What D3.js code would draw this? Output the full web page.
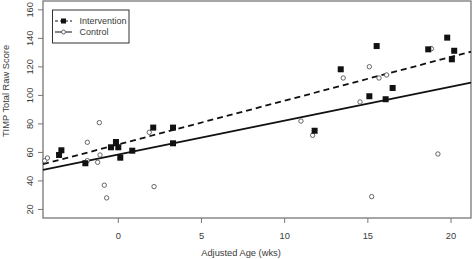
<!DOCTYPE html>
<html>
<head>
<meta charset="utf-8">
<script src="https://cdn.jsdelivr.net/npm/d3@7"></script>
<style>
  body { margin: 0; background: #fff; }
  text { font-family: "Liberation Sans", Arial, sans-serif; fill: #3a3a3a; }
</style>
</head>
<body>
<div id="chart"></div>
<script>
// adjusted age (wks) and TIMP score
const interventionAge   = [-3.56, -3.42, -1.98, -0.44, -0.14, 0.0, 0.12, 0.84, 2.1, 3.29, 3.29, 11.8, 13.37, 15.09, 15.53, 16.07, 16.49, 18.63, 19.77, 20.05, 20.19];
const interventionScore = [58.2, 61.5, 52.4, 63.6, 67.3, 63.6, 56.3, 61.2, 77.4, 77.4, 66.4, 75.2, 118.3, 99.4, 134.6, 97.3, 105.2, 132.3, 140.5, 125.3, 131.3];

const controlAge   = [-4.42, -4.26, -1.86, -1.86, -1.24, -1.14, -1.1, -0.84, -0.7, 1.86, 2.15, 10.98, 11.68, 13.52, 14.53, 15.09, 15.23, 15.67, 16.13, 18.82, 19.21];
const controlScore = [54.2, 56.1, 67.1, 54.2, 53.1, 80.9, 58.2, 37.0, 28.1, 74.1, 36.0, 82.0, 72.0, 112.2, 95.4, 120.1, 29.0, 112.2, 114.3, 132.8, 58.9];

// fitted lines [intercept, slope]
const interventionFit = [65.6, 3.07];
const controlFit = [58.5, 2.38];

const xTicks = [0, 5, 10, 15, 20];
const yTicks = [20, 40, 60, 80, 100, 120, 140, 160];
const legendLabels = ["Intervention", "Control"];

const width = 472, height = 259;
const margin = {left: 43, right: 471, top: 1, bottom: 218};
const fontSize = "9.3px";

const svg = d3.select("#chart").append("svg")
    .attr("width", width)
    .attr("height", height);

const x = d3.scaleLinear().domain([-4.525, 21.2]).range([margin.left, margin.right]);
const y = d3.scaleLinear().domain([14.0, 166.2]).range([margin.bottom, margin.top]);

const axisColor = "#777";

// box
svg.append("rect")
    .attr("x", margin.left).attr("y", margin.top)
    .attr("width", margin.right - margin.left).attr("height", margin.bottom - margin.top)
    .attr("fill", "none").attr("stroke", axisColor).attr("stroke-width", 1.3);

// x axis ticks
const xg = svg.append("g");
xg.selectAll("line").data(xTicks).enter().append("line")
    .attr("x1", d => x(d)).attr("x2", d => x(d))
    .attr("y1", margin.bottom).attr("y2", margin.bottom + 5)
    .attr("stroke", axisColor);
xg.selectAll("text").data(xTicks).enter().append("text")
    .attr("x", d => x(d)).attr("y", 238.5)
    .attr("text-anchor", "middle")
    .style("font-size", fontSize)
    .text(d => d);

// y axis ticks (labels rotated like base R)
const yg = svg.append("g");
yg.selectAll("line").data(yTicks).enter().append("line")
    .attr("x1", margin.left - 5).attr("x2", margin.left)
    .attr("y1", d => y(d)).attr("y2", d => y(d))
    .attr("stroke", axisColor);
yg.selectAll("text").data(yTicks).enter().append("text")
    .attr("transform", d => `translate(32.5,${y(d)}) rotate(-90)`)
    .attr("text-anchor", "middle")
    .style("font-size", fontSize)
    .text(d => d);

// axis titles
svg.append("text")
    .attr("x", 241).attr("y", 255.5)
    .attr("text-anchor", "middle")
    .style("font-size", fontSize)
    .text("Adjusted Age (wks)");
svg.append("text")
    .attr("transform", "translate(9,91) rotate(-90)")
    .attr("text-anchor", "middle")
    .style("font-size", fontSize)
    .text("TIMP Total Raw Score");

// fitted lines
const xd = x.domain();
const plot = svg.append("g");
plot.append("line")
    .attr("x1", x(xd[0])).attr("x2", x(xd[1]))
    .attr("y1", y(interventionFit[0] + interventionFit[1] * xd[0]))
    .attr("y2", y(interventionFit[0] + interventionFit[1] * xd[1]))
    .attr("stroke", "#111").attr("stroke-width", 1.8)
    .attr("stroke-dasharray", "6,4");
plot.append("line")
    .attr("x1", x(xd[0])).attr("x2", x(xd[1]))
    .attr("y1", y(controlFit[0] + controlFit[1] * xd[0]))
    .attr("y2", y(controlFit[0] + controlFit[1] * xd[1]))
    .attr("stroke", "#111").attr("stroke-width", 1.8);

// control points
plot.selectAll(".ctrl").data(controlAge).enter().append("circle")
    .attr("class", "ctrl")
    .attr("cx", d => x(d))
    .attr("cy", (d, i) => y(controlScore[i]))
    .attr("r", 2.2)
    .attr("fill", "#fff").attr("stroke", "#555").attr("stroke-width", 0.9);

// intervention points
plot.selectAll(".intv").data(interventionAge).enter().append("rect")
    .attr("class", "intv")
    .attr("x", d => x(d) - 3)
    .attr("y", (d, i) => y(interventionScore[i]) - 3)
    .attr("width", 6).attr("height", 6)
    .attr("fill", "#111");

// legend
const legend = svg.append("g");
legend.append("rect")
    .attr("x", 52.5).attr("y", 10).attr("width", 76.5).attr("height", 33)
    .attr("fill", "#fff").attr("stroke", "#333").attr("stroke-width", 1);
const items = legend.selectAll(".item").data(legendLabels).enter().append("g")
    .attr("class", "item")
    .attr("transform", (d, i) => `translate(0,${21 + i * 11})`);
items.append("line")
    .attr("x1", 55).attr("x2", 72)
    .attr("stroke", "#111").attr("stroke-width", 1)
    .attr("stroke-dasharray", (d, i) => i === 0 ? "3,2" : null);
items.filter((d, i) => i === 0).append("rect")
    .attr("x", 61).attr("y", -2.5).attr("width", 5).attr("height", 5)
    .attr("fill", "#111");
items.filter((d, i) => i === 1).append("circle")
    .attr("cx", 63.5).attr("cy", 0).attr("r", 2)
    .attr("fill", "#fff").attr("stroke", "#555").attr("stroke-width", 0.9);
items.append("text")
    .attr("x", 79.5).attr("y", 3.4)
    .style("font-size", "9px")
    .text(d => d);
</script>
</body>
</html>
